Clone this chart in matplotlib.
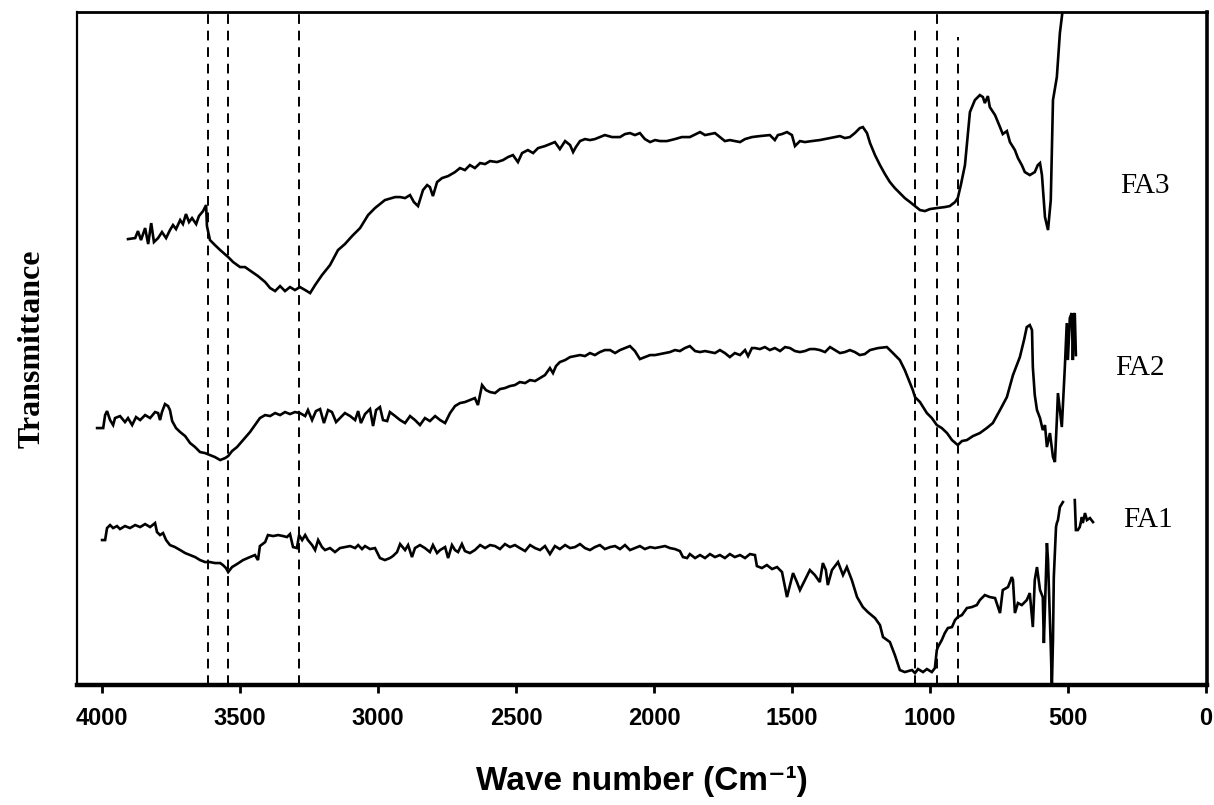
import numpy as np
import matplotlib
matplotlib.use('Agg')
import matplotlib.pyplot as plt

nan = np.nan

# FTIR spectra, wavenumber (cm-1) vs transmittance (arbitrary units, stacked)
fa3_wn = [3906, 3880, 3870, 3859, 3844, 3833, 3822, 3812, 3797, 3783,
          3768, 3754, 3743, 3732, 3717, 3707, 3696, 3685, 3674, 3659,
          3649, 3634, 3623, 3620, 3609, 3591, 3572, 3543, 3525, 3500,
          3482, 3456, 3435, 3409, 3391, 3373, 3355, 3337, 3319, 3301,
          3283, 3264, 3246, 3228, 3203, 3174, 3145, 3120, 3094, 3065,
          3036, 3011, 2975, 2938, 2920, 2902, 2884, 2870, 2855, 2837,
          2822, 2812, 2801, 2786, 2768, 2746, 2721, 2703, 2685, 2667,
          2649, 2630, 2612, 2594, 2569, 2547, 2529, 2511, 2493, 2478,
          2457, 2438, 2420, 2395, 2377, 2359, 2341, 2322, 2304, 2293,
          2283, 2268, 2250, 2232, 2214, 2196, 2178, 2152, 2123, 2105,
          2087, 2069, 2051, 2033, 2014, 1996, 1978, 1953, 1924, 1899,
          1870, 1833, 1815, 1797, 1779, 1761, 1743, 1725, 1707, 1688,
          1670, 1645, 1616, 1580, 1562, 1551, 1536, 1518, 1500, 1489,
          1471, 1453, 1428, 1399, 1362, 1326, 1308, 1290, 1272, 1254,
          1243, 1228, 1217, 1199, 1181, 1163, 1145, 1127, 1109, 1091,
          1072, 1054, 1036, 1018, 1000, 975, 946, 928, 909, 899,
          888, 873, 855, 837, 819, 808, 801, 790, 783, 764,
          746, 736, 721, 710, 692, 681, 667, 656, 638, 620,
          609, 601, 594, 583, 572, 562, 554, 540, 529, 518]
fa3_t = [446, 447, 454, 445, 457, 441, 462, 443, 447, 453,
         447, 455, 460, 456, 465, 461, 471, 463, 467, 461,
         469, 474, 480, 459, 445, 440, 435, 428, 423, 418,
         418, 413, 409, 403, 397, 394, 399, 394, 398, 395,
         398, 395, 392, 400, 410, 420, 435, 441, 449, 457,
         470, 477, 485, 488, 488, 487, 490, 483, 479, 495,
         500, 498, 489, 503, 507, 509, 513, 517, 515, 520,
         517, 522, 521, 524, 523, 525, 528, 530, 523, 532,
         535, 532, 537, 539, 541, 543, 536, 544, 540, 533,
         538, 544, 546, 545, 546, 548, 550, 548, 548, 551,
         552, 550, 552, 546, 543, 545, 544, 544, 546, 548,
         548, 553, 550, 551, 552, 548, 544, 545, 544, 543,
         546, 548, 549, 550, 545, 550, 551, 553, 550, 539,
         544, 543, 544, 545, 547, 549, 547, 548, 552, 557,
         558, 552, 542, 530, 520, 511, 503, 497, 492, 487,
         483, 479, 475, 474, 476, 477, 478, 479, 483, 487,
         500, 520, 573, 585, 590, 588, 582, 589, 578, 570,
         558, 551, 554, 543, 535, 527, 520, 513, 510, 513,
         520, 522, 510, 468, 455, 485, 585, 608, 652, 677]

fa2_wn = [4018, 3996, 3989, 3982, 3971, 3960, 3953, 3935, 3917, 3906,
          3891, 3877, 3862, 3844, 3826, 3808, 3797, 3790, 3783, 3772,
          3761, 3754, 3746, 3732, 3717, 3699, 3681, 3663, 3645, 3627,
          3609, 3591, 3572, 3554, 3543, 3529, 3511, 3489, 3464, 3446,
          3428, 3409, 3391, 3373, 3355, 3337, 3319, 3301, 3283, 3264,
          3254, 3239, 3225, 3210, 3196, 3181, 3167, 3152, 3138, 3120,
          3101, 3083, 3072, 3062, 3047, 3029, 3018, 3007, 2993, 2982,
          2967, 2957, 2938, 2920, 2902, 2884, 2866, 2848, 2830, 2812,
          2793, 2775, 2757, 2739, 2721, 2703, 2685, 2667, 2649, 2638,
          2623, 2609, 2594, 2576, 2558, 2540, 2522, 2504, 2486, 2467,
          2449, 2431, 2413, 2395, 2377, 2366, 2355, 2341, 2322, 2304,
          2286, 2268, 2250, 2232, 2214, 2196, 2178, 2159, 2141, 2123,
          2105, 2087, 2069, 2051, 2033, 2014, 1996, 1978, 1960, 1942,
          1924, 1906, 1888, 1870, 1851, 1833, 1815, 1797, 1779, 1761,
          1743, 1725, 1707, 1688, 1670, 1659, 1645, 1634, 1616, 1598,
          1580, 1562, 1543, 1525, 1507, 1489, 1471, 1453, 1435, 1417,
          1399, 1380, 1362, 1344, 1326, 1308, 1290, 1272, 1254, 1236,
          1217, 1188, 1156, 1134, 1109, 1091, 1062, 1054, 1036, 1011,
          993, 975, 957, 938, 920, 899, 884, 866, 844, 819,
          794, 772, 746, 721, 699, 674, 659, 649, 638, 630,
          627, 620, 612, 601, 591, 583, 576, 565, 554, 547,
          540, 536, 529, 522, 511, 504, 500, 493, 486, 482,
          478, 475, 471]
fa2_t = [257, 257, 270, 274, 265, 260, 267, 269, 263, 267,
         260, 268, 265, 270, 267, 273, 272, 265, 273, 281,
         279, 275, 264, 257, 253, 249, 242, 238, 233, 232,
         230, 228, 225, 227, 229, 234, 238, 245, 253, 260,
         267, 270, 269, 272, 270, 273, 271, 273, 272, 269,
         275, 265, 274, 276, 262, 275, 273, 263, 267, 272,
         269, 265, 274, 262, 271, 276, 259, 275, 278, 265,
         264, 273, 269, 265, 262, 269, 265, 260, 267, 264,
         269, 265, 262, 272, 279, 282, 283, 285, 287, 280,
         300, 295, 293, 292, 296, 297, 299, 300, 303, 302,
         305, 304, 307, 310, 317, 312, 319, 323, 325, 328,
         329, 330, 329, 332, 330, 333, 335, 335, 332, 335,
         337, 339, 334, 326, 328, 330, 330, 331, 332, 333,
         335, 334, 337, 339, 334, 333, 334, 333, 332, 335,
         332, 328, 332, 330, 335, 329, 337, 337, 336, 338,
         335, 337, 334, 338, 337, 334, 333, 334, 336, 336,
         335, 333, 338, 335, 332, 333, 335, 333, 330, 331,
         335, 337, 338, 332, 325, 315, 295, 288, 283, 272,
         267, 260, 257, 252, 245, 240, 244, 245, 249, 252,
         257, 262, 275, 288, 310, 328, 345, 358, 360, 355,
         318, 290, 275, 267, 255, 260, 238, 252, 228, 223,
         265, 292, 275, 258, 318, 362, 325, 367, 372, 325,
         370, 372, 330]

fa1_wn = [4000, 3989, 3982, 3971, 3960, 3946, 3935, 3917, 3899, 3880,
          3862, 3844, 3826, 3808, 3801, 3790, 3779, 3768, 3754, 3736,
          3717, 3699, 3681, 3663, 3645, 3627, 3609, 3591, 3572, 3562,
          3551, 3543, 3529, 3511, 3489, 3464, 3446, 3435, 3428, 3409,
          3399, 3380, 3362, 3344, 3330, 3319, 3308, 3294, 3286, 3275,
          3264, 3254, 3239, 3228, 3217, 3203, 3192, 3174, 3156, 3138,
          3120, 3101, 3083, 3072, 3058, 3047, 3029, 3011, 2993, 2975,
          2957, 2946, 2931, 2920, 2902, 2891, 2877, 2866, 2848, 2830,
          2812, 2801, 2786, 2775, 2757, 2746, 2732, 2721, 2710, 2696,
          2685, 2667, 2649, 2630, 2612, 2594, 2576, 2558, 2540, 2522,
          2504, 2486, 2467, 2449, 2431, 2413, 2395, 2377, 2359, 2341,
          2322, 2304, 2286, 2268, 2250, 2232, 2214, 2196, 2178, 2159,
          2141, 2123, 2105, 2087, 2069, 2051, 2033, 2014, 1996, 1978,
          1960, 1942, 1924, 1906, 1895, 1880, 1870, 1851, 1833, 1815,
          1797, 1779, 1761, 1743, 1725, 1707, 1688, 1670, 1652, 1634,
          1627, 1609, 1591, 1572, 1554, 1536, 1518, 1507, 1496, 1482,
          1471, 1453, 1435, 1417, 1399, 1388, 1377, 1370, 1355, 1333,
          1315, 1301, 1283, 1264, 1243, 1225, 1199, 1181, 1170, 1145,
          1127, 1109, 1091, 1065, 1054, 1043, 1025, 1011, 993, 982,
          975, 971, 957, 946, 935, 920, 909, 899, 884, 866,
          848, 830, 819, 801, 783, 764, 746, 736, 717, 703,
          699, 692, 681, 667, 649, 638, 627, 620, 612, 601,
          591, 587, 576, 572, 562, 558, 554, 551, 543, 540,
          536, 529, 518, nan, 475, 471, 464, 457, 449, 446,
          438, 431, 420, 409]
fa1_t = [145, 145, 157, 160, 157, 159, 156, 159, 157, 160,
         158, 161, 158, 162, 153, 150, 152, 145, 140, 138,
         135, 132, 130, 128, 125, 123, 123, 122, 122, 120,
         117, 113, 118, 121, 125, 128, 130, 125, 139, 143,
         150, 149, 150, 149, 148, 151, 138, 137, 150, 145,
         150, 145, 140, 135, 145, 138, 135, 137, 133, 137,
         138, 139, 137, 140, 136, 139, 136, 137, 127, 125,
         127, 129, 133, 141, 135, 140, 128, 137, 140, 137,
         133, 140, 132, 135, 138, 127, 140, 135, 133, 141,
         134, 132, 135, 140, 137, 140, 139, 136, 141, 138,
         140, 137, 134, 140, 137, 135, 139, 131, 139, 136,
         140, 137, 138, 141, 137, 135, 138, 140, 136, 138,
         139, 136, 140, 135, 137, 139, 136, 138, 137, 138,
         139, 137, 136, 134, 128, 127, 131, 127, 130, 127,
         131, 128, 130, 127, 131, 128, 130, 127, 131, 130,
         119, 117, 120, 116, 118, 113, 88, 100, 112, 103,
         95, 105, 115, 110, 103, 122, 115, 100, 115, 123,
         110, 118, 105, 88, 78, 73, 67, 60, 48, 43,
         30, 15, 13, 15, 12, 16, 13, 16, 13, 17,
         35, 38, 45, 52, 57, 58, 65, 68, 70, 77,
         78, 80, 85, 90, 88, 87, 72, 95, 98, 108,
         105, 72, 82, 80, 85, 92, 58, 105, 118, 95,
         88, 42, 142, 125, 38, -2, 45, 108, 158, 162,
         165, 178, 183, nan, 185, 155, 155, 158, 168, 162,
         172, 165, 167, 163]

# marked bands (dashed guides) and where each guide starts at the top
band_wn = [3616, 3543, 3286, 1054, 975, 899]
band_top = [673, 673, 673, 656, 673, 648]

sample_names = ['FA3', 'FA2', 'FA1']
name_wn = [221, 239, 210]
name_t = [499, 317, 165]

tick_vals = [4000, 3500, 3000, 2500, 2000, 1500, 1000, 500, 0]

narrow = ['Liberation Sans Narrow', 'Liberation Sans', 'DejaVu Sans']
serif = ['Liberation Serif', 'DejaVu Serif']

fig = plt.figure(figsize=(12.14, 8.05), dpi=100)
ax = fig.add_axes([0.0634, 0.149, 0.9308, 0.836])

for wn, t in [(fa3_wn, fa3_t), (fa2_wn, fa2_t), (fa1_wn, fa1_t)]:
    ax.plot(wn, t, color='black', lw=1.9, solid_joinstyle='miter')

ax.vlines(band_wn, 0, band_top, colors='black', linestyles=(0, (5, 3.5)), lw=1.4)

for name, x, y in zip(sample_names, name_wn, name_t):
    ax.text(x, y, name, ha='center', va='center', fontsize=21, family=serif)

ax.set_xlim(4091, -4)
ax.set_ylim(0, 673)
ax.set_xticks(tick_vals)
ax.set_xticklabels([str(v) for v in tick_vals], fontsize=17,
                   fontweight='bold', family=narrow)
ax.set_yticks([])
ax.tick_params(axis='x', direction='out', length=6, width=2, pad=10)

ax.spines['left'].set_linewidth(1.6)
ax.spines['top'].set_linewidth(2.0)
ax.spines['right'].set_linewidth(2.6)
ax.spines['bottom'].set_linewidth(3.2)

ax.set_xlabel('Wave number (Cm\u207b\u00b9)', fontsize=24, fontweight='bold',
              family=narrow, labelpad=26)
ax.set_ylabel('Transmittance', fontsize=23, fontweight='bold',
              family=serif, labelpad=22)

fig.savefig('out.png', dpi=100, facecolor='white')
